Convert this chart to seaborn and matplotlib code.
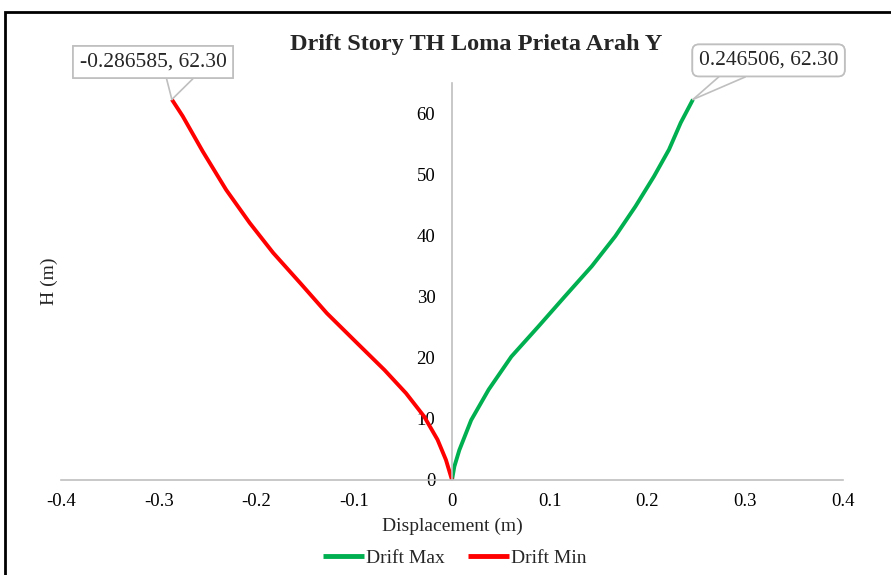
import numpy as np
import pandas as pd
import matplotlib
matplotlib.use("Agg")
import matplotlib.pyplot as plt
from matplotlib.patches import Rectangle
import seaborn as sns

# Drift Max (green)
heights_max = [0, 2.2, 4.9, 9.8, 14.8, 20.2, 25.1, 30.1, 35.0, 39.9, 44.8, 49.7, 54.1, 58.5, 62.3]
drift_max = [0, 0.0024, 0.0075, 0.0196, 0.0375, 0.0607, 0.0882, 0.1157, 0.143, 0.167,
             0.1877, 0.2066, 0.222, 0.234, 0.246506]

# Drift Min (red)
heights_min = [0, 3.3, 6.6, 10.4, 14.2, 18.0, 22.4, 27.3, 32.2, 37.2, 42.1, 47.5, 53.8, 59.6, 62.3]
drift_min = [0, -0.0062, -0.0148, -0.0285, -0.047, -0.069, -0.097, -0.128, -0.155, -0.183,
             -0.207, -0.231, -0.255, -0.2756, -0.286585]

series_names = ["Drift Max", "Drift Min"]
series_colors = {"Drift Max": "#00B050", "Drift Min": "#FF0000"}
x_ticks = [-0.4, -0.3, -0.2, -0.1, 0, 0.1, 0.2, 0.3, 0.4]
y_ticks = [0, 10, 20, 30, 40, 50, 60]

df = pd.concat([
    pd.DataFrame({"disp": drift_max, "H": heights_max, "series": series_names[0]}),
    pd.DataFrame({"disp": drift_min, "H": heights_min, "series": series_names[1]}),
], ignore_index=True)

sns.set_theme(style="white")
plt.rcParams["font.family"] = ["Liberation Serif", "DejaVu Serif"]

W, H = 891, 575
fig = plt.figure(figsize=(W / 100, H / 100), dpi=100)
ax = fig.add_axes([61 / W, 1 - 480 / H, (843 - 61) / W, (480 - 83) / H])

sns.lineplot(data=df, x="disp", y="H", hue="series", palette=series_colors,
             sort=False, estimator=None, linewidth=2.8, ax=ax, legend=True)
for line in ax.get_lines():
    line.set_solid_joinstyle("round")
    line.set_solid_capstyle("butt")

ax.set_xlim(-0.4, 0.4)
ax.set_ylim(0, 65)
ax.set_xticks(x_ticks)
ax.set_xticklabels([f"{t:g}" for t in x_ticks])
ax.set_yticks(y_ticks)

# Excel style axes: vertical axis crossing at zero
for side in ["top", "right"]:
    ax.spines[side].set_visible(False)
ax.spines["left"].set_position(("data", 0))
ax.spines["left"].set_bounds(0, 65)
for side in ["left", "bottom"]:
    ax.spines[side].set_color("#bfbfbf")
    ax.spines[side].set_linewidth(1.2)
ax.tick_params(axis="both", length=0, labelsize=13.5, colors="#000000")
ax.tick_params(axis="x", pad=9)
ax.tick_params(axis="y", pad=12)

ax.set_xlabel("Displacement (m)", fontsize=14, labelpad=6)
ax.set_ylabel("H (m)", fontsize=14)
ax.yaxis.set_label_coords(-0.004, 0.5)

ax.set_title("Drift Story TH Loma Prieta Arah Y", fontsize=17.5, fontweight="bold",
             pad=24, x=0.531)


def callout(x, y, text_x, text_y, boxstyle, rel_left, rel_right):
    # two grey lines from the box bottom to the point form the callout pointer
    for rel in (rel_left, rel_right):
        ax.annotate(f"{x}, {y:.2f}", xy=(x, y), xytext=(text_x, text_y),
                    fontsize=15.5, ha="left", va="center",
                    bbox=dict(boxstyle=boxstyle, fc="white", ec="#bfbfbf", lw=1.2),
                    arrowprops=dict(arrowstyle="-", color="#bfbfbf", lw=1.2,
                                    shrinkA=0, shrinkB=0, relpos=(rel, 0)),
                    annotation_clip=False)


callout(drift_min[-1], heights_min[-1], -0.381, 68.4, "square,pad=0.3", 0.58, 0.82)
callout(drift_max[-1], heights_max[-1], 0.2525, 68.7, "round,pad=0.3,rounding_size=0.3", 0.2, 0.45)

handles, labels = ax.get_legend_handles_labels()
ax.get_legend().remove()
for h in handles:
    h.set_linewidth(3.5)
fig.legend(handles, labels, loc="center", bbox_to_anchor=(455 / W, 1 - 558 / H), ncol=2,
           frameon=False, fontsize=14, handlelength=2.1, handletextpad=0.1, columnspacing=1.2)

# outer chart frame
fig.patches.append(Rectangle((5 / W, -0.05), 1.1, 1 - 12 / H + 0.05, transform=fig.transFigure,
                             fill=False, ec="black", lw=2, zorder=10))

fig.savefig("out.png", dpi=100)
